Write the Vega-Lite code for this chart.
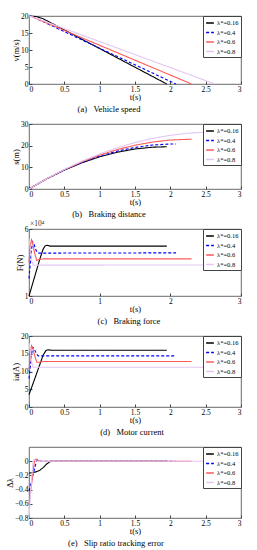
{
  "$schema": "https://vega.github.io/schema/vega-lite/v6.json",
  "padding": {"top": 11, "left": 4, "right": 4, "bottom": 2},
  "background": "white",
  "spacing": 40,
  "bounds": "flush",
  "config": {
    "font": "Liberation Serif",
    "view": {"stroke": "#444", "strokeWidth": 0.8},
    "axis": {
      "labelFont": "Liberation Serif", "titleFont": "Liberation Serif",
      "labelFontSize": 7.5, "titleFontSize": 8.5, "titleFontWeight": "normal",
      "labelColor": "black", "titleColor": "black",
      "grid": false, "domain": false, "tickColor": "#444", "tickSize": -3,
      "labelPadding": 4, "titlePadding": 0
    },
    "legend": {
      "orient": "top-right", "offset": 0, "strokeColor": "#444", "fillColor": "white",
      "padding": 2, "labelFont": "Liberation Serif", "labelFontSize": 6.5, "labelColor": "black",
      "symbolType": "stroke", "symbolSize": 60, "symbolStrokeWidth": 1.3, "rowPadding": 0.5, "labelOffset": 2
    },
    "title": {"font": "Liberation Serif", "fontSize": 8.5, "fontWeight": "normal", "color": "black", "orient": "bottom", "offset": 0}
  },
  "datasets": {
    "a": [
      {"t": 0, "y": 20, "k": "λ*=0.16"}, {"t": 0.1, "y": 19.85, "k": "λ*=0.16"}, {"t": 0.2, "y": 19.2, "k": "λ*=0.16"}, {"t": 0.3, "y": 18.1, "k": "λ*=0.16"}, {"t": 1.95, "y": 0, "k": "λ*=0.16"},
      {"t": 0, "y": 20, "k": "λ*=0.4"}, {"t": 0.05, "y": 19.8, "k": "λ*=0.4"}, {"t": 0.1, "y": 19.3, "k": "λ*=0.4"}, {"t": 2.08, "y": 0, "k": "λ*=0.4"},
      {"t": 0, "y": 20, "k": "λ*=0.6"}, {"t": 0.05, "y": 19.7, "k": "λ*=0.6"}, {"t": 2.3, "y": 0, "k": "λ*=0.6"},
      {"t": 0, "y": 20, "k": "λ*=0.8"}, {"t": 0.05, "y": 19.75, "k": "λ*=0.8"}, {"t": 2.63, "y": 0, "k": "λ*=0.8"}
    ],
    "b": [
      {"t": 0, "y": 0, "k": "λ*=0.16"}, {"t": 0.25, "y": 4.68, "k": "λ*=0.16"}, {"t": 0.5, "y": 8.72, "k": "λ*=0.16"}, {"t": 0.75, "y": 12.12, "k": "λ*=0.16"}, {"t": 1.0, "y": 14.87, "k": "λ*=0.16"}, {"t": 1.25, "y": 16.99, "k": "λ*=0.16"}, {"t": 1.5, "y": 18.46, "k": "λ*=0.16"}, {"t": 1.75, "y": 19.3, "k": "λ*=0.16"}, {"t": 1.95, "y": 19.5, "k": "λ*=0.16"},
      {"t": 0, "y": 0, "k": "λ*=0.4"}, {"t": 0.25, "y": 4.7, "k": "λ*=0.4"}, {"t": 0.5, "y": 8.8, "k": "λ*=0.4"}, {"t": 0.75, "y": 12.3, "k": "λ*=0.4"}, {"t": 1.0, "y": 15.19, "k": "λ*=0.4"}, {"t": 1.25, "y": 17.49, "k": "λ*=0.4"}, {"t": 1.5, "y": 19.18, "k": "λ*=0.4"}, {"t": 1.75, "y": 20.28, "k": "λ*=0.4"}, {"t": 2.0, "y": 20.77, "k": "λ*=0.4"}, {"t": 2.08, "y": 20.8, "k": "λ*=0.4"},
      {"t": 0, "y": 0, "k": "λ*=0.6"}, {"t": 0.25, "y": 4.73, "k": "λ*=0.6"}, {"t": 0.5, "y": 8.91, "k": "λ*=0.6"}, {"t": 0.75, "y": 12.55, "k": "λ*=0.6"}, {"t": 1.0, "y": 15.65, "k": "λ*=0.6"}, {"t": 1.25, "y": 18.21, "k": "λ*=0.6"}, {"t": 1.5, "y": 20.22, "k": "λ*=0.6"}, {"t": 1.75, "y": 21.68, "k": "λ*=0.6"}, {"t": 2.0, "y": 22.61, "k": "λ*=0.6"}, {"t": 2.3, "y": 23.0, "k": "λ*=0.6"},
      {"t": 0, "y": 0, "k": "λ*=0.8"}, {"t": 0.25, "y": 4.76, "k": "λ*=0.8"}, {"t": 0.5, "y": 9.05, "k": "λ*=0.8"}, {"t": 0.75, "y": 12.86, "k": "λ*=0.8"}, {"t": 1.0, "y": 16.2, "k": "λ*=0.8"}, {"t": 1.25, "y": 19.06, "k": "λ*=0.8"}, {"t": 1.5, "y": 21.45, "k": "λ*=0.8"}, {"t": 1.75, "y": 23.36, "k": "λ*=0.8"}, {"t": 2.0, "y": 24.79, "k": "λ*=0.8"}, {"t": 2.25, "y": 25.75, "k": "λ*=0.8"}, {"t": 2.5, "y": 26.24, "k": "λ*=0.8"}, {"t": 2.63, "y": 26.3, "k": "λ*=0.8"}
    ],
    "c": [
      {"t": 0, "y": 1.0, "k": "λ*=0.16"}, {"t": 0.05, "y": 1.9, "k": "λ*=0.16"}, {"t": 0.1, "y": 2.8, "k": "λ*=0.16"}, {"t": 0.15, "y": 3.7, "k": "λ*=0.16"}, {"t": 0.2, "y": 4.5, "k": "λ*=0.16"}, {"t": 0.23, "y": 4.75, "k": "λ*=0.16"}, {"t": 0.26, "y": 4.78, "k": "λ*=0.16"}, {"t": 0.3, "y": 4.72, "k": "λ*=0.16"}, {"t": 1.95, "y": 4.72, "k": "λ*=0.16"},
      {"t": 0, "y": 2.3, "k": "λ*=0.4"}, {"t": 0.03, "y": 4.2, "k": "λ*=0.4"}, {"t": 0.05, "y": 5.05, "k": "λ*=0.4"}, {"t": 0.07, "y": 4.9, "k": "λ*=0.4"}, {"t": 0.1, "y": 4.4, "k": "λ*=0.4"}, {"t": 0.13, "y": 4.2, "k": "λ*=0.4"}, {"t": 2.08, "y": 4.22, "k": "λ*=0.4"},
      {"t": 0, "y": 3.5, "k": "λ*=0.6"}, {"t": 0.02, "y": 4.8, "k": "λ*=0.6"}, {"t": 0.035, "y": 5.2, "k": "λ*=0.6"}, {"t": 0.05, "y": 5.0, "k": "λ*=0.6"}, {"t": 0.08, "y": 4.2, "k": "λ*=0.6"}, {"t": 0.11, "y": 3.65, "k": "λ*=0.6"}, {"t": 0.14, "y": 3.72, "k": "λ*=0.6"}, {"t": 0.2, "y": 3.77, "k": "λ*=0.6"}, {"t": 2.3, "y": 3.77, "k": "λ*=0.6"},
      {"t": 0, "y": 5.3, "k": "λ*=0.8"}, {"t": 0.02, "y": 4.5, "k": "λ*=0.8"}, {"t": 0.04, "y": 3.6, "k": "λ*=0.8"}, {"t": 0.06, "y": 3.3, "k": "λ*=0.8"}, {"t": 2.63, "y": 3.32, "k": "λ*=0.8"}
    ],
    "d": [
      {"t": 0, "y": 3.5, "k": "λ*=0.16"}, {"t": 0.05, "y": 6.2, "k": "λ*=0.16"}, {"t": 0.1, "y": 9.0, "k": "λ*=0.16"}, {"t": 0.15, "y": 11.8, "k": "λ*=0.16"}, {"t": 0.2, "y": 14.6, "k": "λ*=0.16"}, {"t": 0.24, "y": 15.9, "k": "λ*=0.16"}, {"t": 0.27, "y": 16.1, "k": "λ*=0.16"}, {"t": 0.32, "y": 16.0, "k": "λ*=0.16"}, {"t": 1.95, "y": 16.0, "k": "λ*=0.16"},
      {"t": 0, "y": 8.0, "k": "λ*=0.4"}, {"t": 0.03, "y": 13.5, "k": "λ*=0.4"}, {"t": 0.05, "y": 16.8, "k": "λ*=0.4"}, {"t": 0.07, "y": 16.6, "k": "λ*=0.4"}, {"t": 0.1, "y": 15.2, "k": "λ*=0.4"}, {"t": 0.13, "y": 14.4, "k": "λ*=0.4"}, {"t": 2.08, "y": 14.4, "k": "λ*=0.4"},
      {"t": 0, "y": 10.5, "k": "λ*=0.6"}, {"t": 0.02, "y": 15.0, "k": "λ*=0.6"}, {"t": 0.035, "y": 17.3, "k": "λ*=0.6"}, {"t": 0.05, "y": 16.8, "k": "λ*=0.6"}, {"t": 0.08, "y": 14.5, "k": "λ*=0.6"}, {"t": 0.11, "y": 12.6, "k": "λ*=0.6"}, {"t": 0.14, "y": 12.6, "k": "λ*=0.6"}, {"t": 0.2, "y": 12.8, "k": "λ*=0.6"}, {"t": 2.3, "y": 12.8, "k": "λ*=0.6"},
      {"t": 0, "y": 18.0, "k": "λ*=0.8"}, {"t": 0.02, "y": 15.5, "k": "λ*=0.8"}, {"t": 0.04, "y": 12.3, "k": "λ*=0.8"}, {"t": 0.06, "y": 11.2, "k": "λ*=0.8"}, {"t": 2.63, "y": 11.2, "k": "λ*=0.8"}
    ],
    "e": [
      {"t": 0, "y": -0.17, "k": "λ*=0.16"}, {"t": 0.05, "y": -0.16, "k": "λ*=0.16"}, {"t": 0.1, "y": -0.15, "k": "λ*=0.16"}, {"t": 0.15, "y": -0.13, "k": "λ*=0.16"}, {"t": 0.2, "y": -0.09, "k": "λ*=0.16"}, {"t": 0.25, "y": -0.04, "k": "λ*=0.16"}, {"t": 0.3, "y": -0.005, "k": "λ*=0.16"}, {"t": 0.33, "y": 0, "k": "λ*=0.16"}, {"t": 1.95, "y": 0, "k": "λ*=0.16"},
      {"t": 0, "y": -0.42, "k": "λ*=0.4"}, {"t": 0.03, "y": -0.3, "k": "λ*=0.4"}, {"t": 0.06, "y": -0.18, "k": "λ*=0.4"}, {"t": 0.09, "y": -0.06, "k": "λ*=0.4"}, {"t": 0.11, "y": 0.01, "k": "λ*=0.4"}, {"t": 0.13, "y": 0.02, "k": "λ*=0.4"}, {"t": 0.16, "y": 0, "k": "λ*=0.4"}, {"t": 2.08, "y": 0, "k": "λ*=0.4"},
      {"t": 0, "y": -0.6, "k": "λ*=0.6"}, {"t": 0.03, "y": -0.38, "k": "λ*=0.6"}, {"t": 0.06, "y": -0.12, "k": "λ*=0.6"}, {"t": 0.08, "y": 0.02, "k": "λ*=0.6"}, {"t": 0.1, "y": 0.03, "k": "λ*=0.6"}, {"t": 0.13, "y": 0.01, "k": "λ*=0.6"}, {"t": 0.16, "y": 0, "k": "λ*=0.6"}, {"t": 2.3, "y": 0, "k": "λ*=0.6"},
      {"t": 0, "y": -0.8, "k": "λ*=0.8"}, {"t": 0.02, "y": -0.5, "k": "λ*=0.8"}, {"t": 0.04, "y": -0.2, "k": "λ*=0.8"}, {"t": 0.06, "y": 0.0, "k": "λ*=0.8"}, {"t": 0.08, "y": 0.02, "k": "λ*=0.8"}, {"t": 0.11, "y": 0, "k": "λ*=0.8"}, {"t": 2.63, "y": 0, "k": "λ*=0.8"}
    ],
    "note": [{"t": 0, "y": 6, "txt": "×10⁴"}]
  },
  "resolve": {"legend": {"color": "independent", "strokeDash": "independent"}, "scale": {"color": "independent", "strokeDash": "independent"}},
  "vconcat": [
    {
      "width": 212, "height": 68,
      "title": {"text": "(a)\u00a0\u00a0\u00a0Vehicle speed", "dx": -26},
      "data": {"name": "a"},
      "mark": {"type": "line", "strokeWidth": 1.1},
      "encoding": {
        "x": {"field": "t", "type": "quantitative", "scale": {"domain": [0, 3], "nice": false}, "axis": {"title": "t(s)", "values": [0, 0.5, 1, 1.5, 2, 2.5, 3], "format": "~g"}},
        "y": {"field": "y", "type": "quantitative", "scale": {"domain": [0, 20], "nice": false}, "axis": {"title": "v(m/s)", "values": [0, 5, 10, 15, 20]}},
        "color": {"field": "k", "type": "nominal", "scale": {"domain": ["λ*=0.16", "λ*=0.4", "λ*=0.6", "λ*=0.8"], "range": ["#000000", "#0000ff", "#ff5a5a", "#e2c6f4"]}, "legend": {"title": null}},
        "strokeDash": {"field": "k", "type": "nominal", "scale": {"domain": ["λ*=0.16", "λ*=0.4", "λ*=0.6", "λ*=0.8"], "range": [[1, 0], [3, 2], [1, 0], [1, 0]]}, "legend": {"title": null}}
      }
    },
    {
      "width": 212, "height": 65,
      "title": {"text": "(b)\u00a0\u00a0\u00a0Braking distance", "dx": -26},
      "data": {"name": "b"},
      "mark": {"type": "line", "strokeWidth": 1.1},
      "encoding": {
        "x": {"field": "t", "type": "quantitative", "scale": {"domain": [0, 3], "nice": false}, "axis": {"title": "t(s)", "values": [0, 0.5, 1, 1.5, 2, 2.5, 3], "format": "~g"}},
        "y": {"field": "y", "type": "quantitative", "scale": {"domain": [0, 30], "nice": false}, "axis": {"title": "s(m)", "values": [0, 10, 20, 30]}},
        "color": {"field": "k", "type": "nominal", "scale": {"domain": ["λ*=0.16", "λ*=0.4", "λ*=0.6", "λ*=0.8"], "range": ["#000000", "#0000ff", "#ff5a5a", "#e2c6f4"]}, "legend": {"title": null}},
        "strokeDash": {"field": "k", "type": "nominal", "scale": {"domain": ["λ*=0.16", "λ*=0.4", "λ*=0.6", "λ*=0.8"], "range": [[1, 0], [3, 2], [1, 0], [1, 0]]}, "legend": {"title": null}}
      }
    },
    {
      "width": 212, "height": 67,
      "title": {"text": "(c)\u00a0\u00a0\u00a0Braking force", "dx": -6},
      "layer": [
        {
          "data": {"name": "c"},
          "mark": {"type": "line", "strokeWidth": 1.1},
          "encoding": {
            "x": {"field": "t", "type": "quantitative", "scale": {"domain": [0, 3], "nice": false}, "axis": {"title": "t(s)", "values": [0, 0.5, 1, 1.5, 2, 2.5, 3], "format": "~g"}},
            "y": {"field": "y", "type": "quantitative", "scale": {"domain": [1, 6], "nice": false, "zero": false}, "axis": {"title": "F(N)", "values": [1, 2, 3, 4, 5, 6]}},
            "color": {"field": "k", "type": "nominal", "scale": {"domain": ["λ*=0.16", "λ*=0.4", "λ*=0.6", "λ*=0.8"], "range": ["#000000", "#0000ff", "#ff5a5a", "#e2c6f4"]}, "legend": {"title": null}},
            "strokeDash": {"field": "k", "type": "nominal", "scale": {"domain": ["λ*=0.16", "λ*=0.4", "λ*=0.6", "λ*=0.8"], "range": [[1, 0], [3, 2], [1, 0], [1, 0]]}, "legend": {"title": null}}
          }
        },
        {
          "data": {"name": "note"},
          "mark": {"type": "text", "align": "left", "baseline": "bottom", "dx": 1, "dy": -1, "fontSize": 7.5, "font": "Liberation Serif", "color": "#333"},
          "encoding": {
            "x": {"field": "t", "type": "quantitative"},
            "y": {"field": "y", "type": "quantitative"},
            "text": {"field": "txt"}
          }
        }
      ]
    },
    {
      "width": 212, "height": 71,
      "title": {"text": "(d)\u00a0\u00a0\u00a0Motor current", "dx": -3},
      "data": {"name": "d"},
      "mark": {"type": "line", "strokeWidth": 1.1},
      "encoding": {
        "x": {"field": "t", "type": "quantitative", "scale": {"domain": [0, 3], "nice": false}, "axis": {"title": "t(s)", "values": [0, 0.5, 1, 1.5, 2, 2.5, 3], "format": "~g"}},
        "y": {"field": "y", "type": "quantitative", "scale": {"domain": [0, 20], "nice": false}, "axis": {"title": "ia(A)", "values": [0, 5, 10, 15, 20]}},
        "color": {"field": "k", "type": "nominal", "scale": {"domain": ["λ*=0.16", "λ*=0.4", "λ*=0.6", "λ*=0.8"], "range": ["#000000", "#0000ff", "#ff5a5a", "#e2c6f4"]}, "legend": {"title": null}},
        "strokeDash": {"field": "k", "type": "nominal", "scale": {"domain": ["λ*=0.16", "λ*=0.4", "λ*=0.6", "λ*=0.8"], "range": [[1, 0], [3, 2], [1, 0], [1, 0]]}, "legend": {"title": null}}
      }
    },
    {
      "width": 212, "height": 71,
      "title": {"text": "(e)\u00a0\u00a0\u00a0Slip ratio tracking error", "dx": -19},
      "data": {"name": "e"},
      "mark": {"type": "line", "strokeWidth": 1.1},
      "encoding": {
        "x": {"field": "t", "type": "quantitative", "scale": {"domain": [0, 3], "nice": false}, "axis": {"title": "t(s)", "values": [0, 0.5, 1, 1.5, 2, 2.5, 3], "format": "~g"}},
        "y": {"field": "y", "type": "quantitative", "scale": {"domain": [-0.8, 0.2], "nice": false}, "axis": {"title": "Δλ", "values": [-0.8, -0.6, -0.4, -0.2, 0], "format": "~g"}},
        "color": {"field": "k", "type": "nominal", "scale": {"domain": ["λ*=0.16", "λ*=0.4", "λ*=0.6", "λ*=0.8"], "range": ["#000000", "#0000ff", "#ff5a5a", "#e2c6f4"]}, "legend": {"title": null}},
        "strokeDash": {"field": "k", "type": "nominal", "scale": {"domain": ["λ*=0.16", "λ*=0.4", "λ*=0.6", "λ*=0.8"], "range": [[1, 0], [3, 2], [1, 0], [1, 0]]}, "legend": {"title": null}}
      }
    }
  ]
}
